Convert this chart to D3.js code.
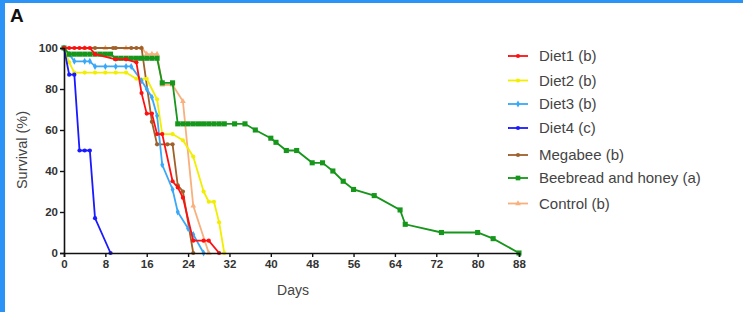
<!DOCTYPE html>
<html>
<head>
<meta charset="utf-8">
<script src="https://cdn.jsdelivr.net/npm/d3@7"></script>
<style>
  body { margin: 0; background: #fff; }
  svg { display: block; font-family: "Liberation Sans", Arial, sans-serif; }
</style>
</head>
<body>
<script>
// survival data (day, % alive)
var diet1Days = [0, 1, 2, 3, 4, 5, 6, 10, 12, 14, 15, 16, 17, 18, 19, 21, 22, 23, 25, 27, 28, 30];
var diet1Vals = [100, 100, 100, 100, 100, 100, 97, 94.5, 94.5, 93, 78, 68, 68, 58, 58, 35, 32, 27, 6, 6, 6, 0];

var diet2Days = [0, 1, 2, 4, 6, 8, 10, 12, 14, 16, 18, 19, 21, 23, 25, 27, 28, 29, 30, 31];
var diet2Vals = [100, 93, 88, 88, 88, 88, 88, 88, 85, 85, 75, 58, 58, 55, 47, 30, 25, 25, 15, 0];

var diet3Days = [0, 1, 2, 4, 5, 6, 8, 10, 12, 13, 15, 16, 17, 18, 19, 21, 22, 24, 25, 27];
var diet3Vals = [100, 97, 93.5, 93.5, 93.5, 91, 91, 91, 91, 91, 84, 80, 76, 67, 43, 31, 20, 12, 9, 0];

var diet4Days = [0, 1, 2, 3, 4, 5, 6, 9];
var diet4Vals = [100, 87, 87, 50, 50, 50, 17, 0];

var megabeeDays = [0, 6, 9.5, 10, 13, 14, 15, 17, 18, 20, 21, 22, 23, 25];
var megabeeVals = [100, 100, 100, 100, 100, 100, 100, 64, 53, 53, 53, 33, 30, 0];

var beebreadDays = [0, 1, 2, 3, 4, 5, 6, 7, 8, 9, 10, 11, 12, 13, 14, 15, 16, 17, 18, 19, 21, 22, 23, 24, 25, 26, 27, 28, 29, 30, 31, 33, 35,
  37, 40, 41, 43, 45, 48, 50, 52, 54, 56, 60, 65, 66, 73, 80, 83, 88];
var beebreadVals = [100, 97, 97, 97, 97, 97, 97, 97, 97, 97, 95, 95, 95, 95, 95, 95, 95, 95, 95, 83, 83, 63, 63, 63, 63, 63, 63, 63, 63, 63, 63, 63, 63,
  60, 56, 54, 50, 50, 44, 44, 40, 35, 31, 28, 21, 14, 10, 10, 7, 0];

var controlDays = [0, 4, 8, 12, 15, 16, 17, 18, 19, 21, 23, 25, 28];
var controlVals = [100, 100, 100, 100, 100, 97, 97, 97, 82, 82, 74, 23, 0];

var seriesNames = ["Diet1 (b)", "Diet2 (b)", "Diet3 (b)", "Diet4 (c)", "Megabee (b)", "Beebread and honey (a)", "Control (b)"];
var seriesColors = ["#ff1010", "#f2ee00", "#3aa8f8", "#1a1aff", "#a0602a", "#16961a", "#f8b07c"];
var seriesMarks = ["circle", "circle", "diamond", "circle", "circle", "square", "triangle"];
var xTicks = [0, 8, 16, 24, 32, 40, 48, 56, 64, 72, 80, 88];
var yTicks = [0, 20, 40, 60, 80, 100];

var width = 743, height = 312;

var svg = d3.select("body").append("svg")
    .attr("width", width)
    .attr("height", height);

// blue frame on left and top
svg.append("rect").attr("x", 0).attr("y", 0).attr("width", width).attr("height", 3).attr("fill", "#2a93f5");
svg.append("rect").attr("x", 0).attr("y", 0).attr("width", 5).attr("height", height).attr("fill", "#2a93f5");

svg.append("text")
    .attr("x", 10).attr("y", 22)
    .attr("font-size", 19).attr("font-weight", "bold").attr("fill", "#111")
    .text("A");

var x = d3.scaleLinear().domain([0, 88]).range([64, 519]);
var y = d3.scaleLinear().domain([0, 100]).range([253, 48]);

var allSeries = [
  {days: diet1Days, vals: diet1Vals},
  {days: diet2Days, vals: diet2Vals},
  {days: diet3Days, vals: diet3Vals},
  {days: diet4Days, vals: diet4Vals},
  {days: megabeeDays, vals: megabeeVals},
  {days: beebreadDays, vals: beebreadVals},
  {days: controlDays, vals: controlVals}
].map(function(s, i){
  return {
    name: seriesNames[i], color: seriesColors[i], mark: seriesMarks[i],
    points: s.days.map(function(d, j){ return [d, s.vals[j]]; })
  };
});

// draw order so that the overlaps look like the figure
var drawOrder = [6, 4, 1, 2, 3, 5, 0];

var line = d3.line()
    .x(function(d){ return x(d[0]); })
    .y(function(d){ return y(d[1]); });

function markPath(type, size){
  var sym = {circle: d3.symbolCircle, square: d3.symbolSquare, triangle: d3.symbolTriangle, diamond: d3.symbolDiamond}[type];
  return d3.symbol().type(sym).size(size)();
}

var plot = svg.append("g");
drawOrder.forEach(function(i){
  var s = allSeries[i];
  var g = plot.append("g");
  g.append("path")
      .datum(s.points)
      .attr("fill", "none")
      .attr("stroke", s.color)
      .attr("stroke-width", 1.8)
      .attr("d", line);
  g.selectAll("path.mk")
      .data(s.points)
      .enter()
      .append("path")
      .attr("class", "mk")
      .attr("transform", function(d){ return "translate(" + x(d[0]) + "," + y(d[1]) + ")"; })
      .attr("d", markPath(s.mark, s.mark == "square" ? 26 : 14))
      .attr("fill", s.color);
});

// axes
var xAxis = svg.append("g")
    .attr("transform", "translate(0,253)")
    .call(d3.axisBottom(x).tickValues(xTicks).tickSize(4).tickPadding(3));
var yAxis = svg.append("g")
    .attr("transform", "translate(64,0)")
    .call(d3.axisLeft(y).tickValues(yTicks).tickSize(4).tickPadding(2));

[xAxis, yAxis].forEach(function(a){
  a.select(".domain").attr("stroke", "#111").attr("stroke-width", 1.6);
  a.selectAll(".tick line").attr("stroke", "#111").attr("stroke-width", 1.4);
  a.selectAll(".tick text")
      .attr("font-size", 11.5).attr("font-weight", "bold").attr("fill", "#333")
      .attr("font-family", "'Liberation Sans', Arial, sans-serif");
});

svg.append("text")
    .attr("x", 293).attr("y", 295)
    .attr("text-anchor", "middle")
    .attr("font-size", 14).attr("fill", "#444")
    .text("Days");

svg.append("text")
    .attr("transform", "translate(27,150) rotate(-90)")
    .attr("text-anchor", "middle")
    .attr("font-size", 14.5).attr("fill", "#444")
    .text("Survival (%)");

// legend
var legendY = [56, 80.5, 104, 128, 155, 178, 203.5];
var legend = svg.selectAll("g.legend")
    .data(allSeries)
    .enter()
    .append("g")
    .attr("class", "legend")
    .attr("transform", function(d, i){ return "translate(508," + legendY[i] + ")"; });

legend.append("line")
    .attr("x1", 0).attr("x2", 20)
    .attr("stroke", function(d){ return d.color; })
    .attr("stroke-width", 1.8);
legend.append("path")
    .attr("transform", "translate(10,0)")
    .attr("d", function(d){ return markPath(d.mark, d.mark == "square" ? 22 : 14); })
    .attr("fill", function(d){ return d.color; });
legend.append("text")
    .attr("x", 31).attr("y", 5)
    .attr("font-size", 15).attr("fill", "#444")
    .text(function(d){ return d.name; });
</script>
</body>
</html>
